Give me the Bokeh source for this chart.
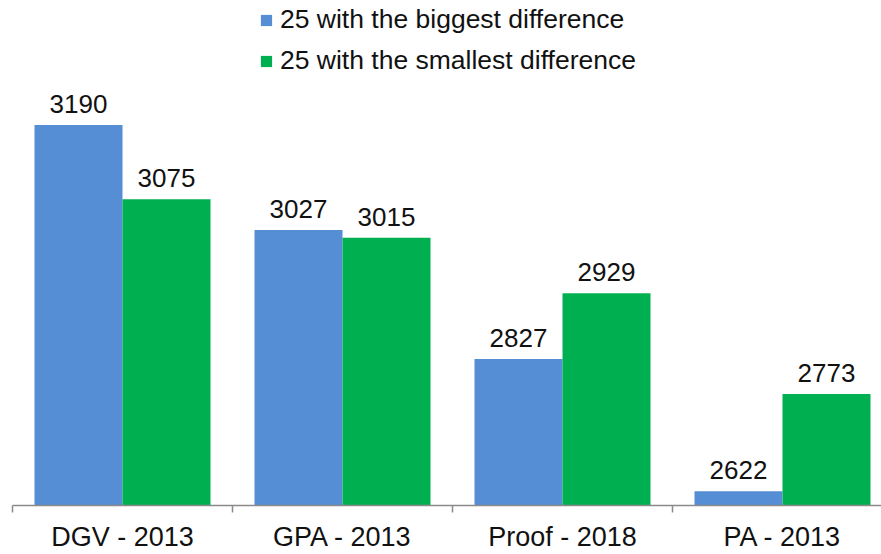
from bokeh.plotting import figure
from bokeh.models import ColumnDataSource, Range1d, FixedTicker, Legend, LegendItem
from bokeh.core.properties import value
from bokeh.embed import file_html
from bokeh.resources import INLINE

categories = ["DGV - 2013", "GPA - 2013", "Proof - 2018", "PA - 2013"]
biggest = [3190, 3027, 2827, 2622]
smallest = [3075, 3015, 2929, 2773]
series_names = ["25 with the biggest difference", "25 with the smallest difference"]
colors = ["#558ED5", "#00B050"]

FONT = "Liberation Sans"

centers = [i + 0.5 for i in range(len(categories))]
src_b = ColumnDataSource(dict(x=[c - 0.2 for c in centers], top=biggest,
                              lab=[str(v) for v in biggest]))
src_s = ColumnDataSource(dict(x=[c + 0.2 for c in centers], top=smallest,
                              lab=[str(v) for v in smallest]))

p = figure(width=881, height=554, output_backend="svg", toolbar_location=None,
           x_range=Range1d(0, 3.95), y_range=Range1d(2600, 3383),
           min_border_left=12, min_border_right=0, min_border_top=0, min_border_bottom=47)
p.outline_line_color = None
p.xgrid.visible = False
p.ygrid.visible = False
p.yaxis.visible = False
p.background_fill_color = "white"
p.border_fill_color = "white"

rb = p.vbar(x="x", top="top", bottom=2600, width=0.4, source=src_b,
            fill_color=colors[0], line_color=None)
rs = p.vbar(x="x", top="top", bottom=2600, width=0.4, source=src_s,
            fill_color=colors[1], line_color=None)

for src in (src_b, src_s):
    p.text(x="x", y="top", text="lab", source=src, text_align="center",
           text_baseline="bottom", y_offset=-12, text_font=value(FONT),
           text_font_size="26px", text_color="#111111")

ax = p.xaxis[0]
ax.ticker = FixedTicker(ticks=centers, minor_ticks=[0, 1, 2, 3])
ax.major_label_overrides = {c: n for c, n in zip(centers, categories)}
ax.major_tick_out = 0
ax.major_tick_in = 0
ax.minor_tick_out = 7
ax.minor_tick_in = 0
ax.minor_tick_line_color = "#8a8a8a"
ax.minor_tick_line_width = 1.5
ax.axis_line_color = "#8a8a8a"
ax.axis_line_width = 1.5
ax.major_label_text_font = FONT
ax.major_label_text_font_size = "27px"
ax.major_label_text_color = "#111111"
ax.major_label_standoff = 9

legend = Legend(items=[LegendItem(label=series_names[0], renderers=[rb]),
                       LegendItem(label=series_names[1], renderers=[rs])],
                location=(247, 429), orientation="vertical",
                padding=0, margin=0, border_line_color=None,
                background_fill_alpha=0,
                glyph_width=14, glyph_height=14, label_height=27,
                spacing=10, label_standoff=7,
                label_text_font=FONT, label_text_font_size="26.5px",
                label_text_color="#111111")
p.add_layout(legend)

open("out.html", "w").write(file_html(p, INLINE))
